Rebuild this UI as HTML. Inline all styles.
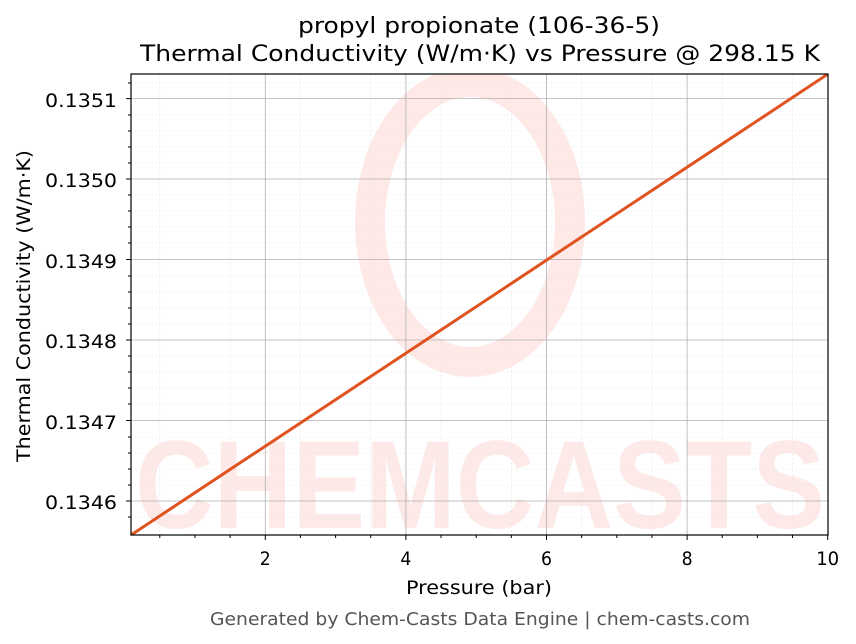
<!DOCTYPE html>
<html><head><meta charset="utf-8"><style>body{margin:0;background:#fff}svg{display:block}</style></head><body>
<svg width="856" height="644" viewBox="0 0 856 644" xmlns="http://www.w3.org/2000/svg" font-family="DejaVu Sans, Liberation Sans, sans-serif">
<rect width="856" height="644" fill="#fff"/>
<defs><clipPath id="c"><rect x="131" y="74" width="697" height="461"/></clipPath></defs>
<g clip-path="url(#c)">
<g opacity="0.4" fill="#fcc9c4">
<ellipse cx="470" cy="222" rx="100" ry="140" fill="none" stroke="#fcc9c4" stroke-width="30"/>
<text x="480" y="528" font-size="125" font-weight="bold" text-anchor="middle" textLength="690" lengthAdjust="spacingAndGlyphs" font-family="Liberation Sans, sans-serif">CHEMCASTS</text>
</g>
<g stroke="#e6e6e6" stroke-width="0.6" stroke-dasharray="2,2">
<path d="M159.8 74V535M230.1 74V535M300.4 74V535M370.7 74V535M441 74V535M511.3 74V535M581.6 74V535M651.9 74V535M722.2 74V535M792.5 74V535"/>
<path d="M131 517H828M131 485H828M131 469H828M131 453H828M131 437H828M131 404H828M131 388H828M131 372H828M131 356H828M131 324H828M131 308H828M131 292H828M131 276H828M131 243H828M131 227H828M131 211H828M131 195H828M131 163H828M131 147H828M131 131H828M131 115H828M131 83H828"/>
</g>
<g stroke="#b0b0b0" stroke-width="0.8">
<path d="M265.3 74V535M405.9 74V535M546.5 74V535M687.1 74V535"/>
<path d="M131 501H828M131 420.5H828M131 340H828M131 259.5H828M131 179H828M131 98.6H828"/>
</g>
<line x1="131" y1="535" x2="828" y2="74" stroke="#e05320" stroke-width="3"/>
</g>
<rect x="131" y="74" width="697" height="461" fill="none" stroke="#000" stroke-width="1.2"/>
<g stroke="#000" stroke-width="1">
<path d="M265.3 535v5M405.9 535v5M546.5 535v5M687.1 535v5M827.7 535v5"/>
<path d="M159.8 535v3M195 535v3M230.1 535v3M300.4 535v3M335.6 535v3M370.7 535v3M441 535v3M476.2 535v3M511.3 535v3M581.6 535v3M616.8 535v3M651.9 535v3M722.2 535v3M757.4 535v3M792.5 535v3"/>
<path d="M131 501h-5M131 420.5h-5M131 340h-5M131 259.5h-5M131 179h-5M131 98.6h-5"/>
<path d="M131 517h-3M131 485h-3M131 469h-3M131 453h-3M131 437h-3M131 404h-3M131 388h-3M131 372h-3M131 356h-3M131 324h-3M131 308h-3M131 292h-3M131 276h-3M131 243h-3M131 227h-3M131 211h-3M131 195h-3M131 163h-3M131 147h-3M131 131h-3M131 115h-3M131 83h-3"/>
</g>
<g font-size="19" fill="#000">
<g text-anchor="middle">
<text x="265.3" y="565" textLength="11" lengthAdjust="spacingAndGlyphs">2</text><text x="405.9" y="565" textLength="11" lengthAdjust="spacingAndGlyphs">4</text><text x="546.5" y="565" textLength="11" lengthAdjust="spacingAndGlyphs">6</text><text x="687.1" y="565" textLength="11" lengthAdjust="spacingAndGlyphs">8</text><text x="827.7" y="565" textLength="23" lengthAdjust="spacingAndGlyphs">10</text>
<text x="479" y="594" textLength="146" lengthAdjust="spacingAndGlyphs">Pressure (bar)</text>
<text x="479" y="33" font-size="22" textLength="362" lengthAdjust="spacingAndGlyphs">propyl propionate (106-36-5)</text>
<text x="480" y="61" font-size="22" textLength="680" lengthAdjust="spacingAndGlyphs">Thermal Conductivity (W/m·K) vs Pressure @ 298.15 K</text>
</g>
<g text-anchor="end">
<text x="117" y="107" textLength="72" lengthAdjust="spacingAndGlyphs">0.1351</text><text x="117" y="187" textLength="72" lengthAdjust="spacingAndGlyphs">0.1350</text><text x="117" y="268" textLength="72" lengthAdjust="spacingAndGlyphs">0.1349</text><text x="117" y="348" textLength="72" lengthAdjust="spacingAndGlyphs">0.1348</text><text x="117" y="429" textLength="72" lengthAdjust="spacingAndGlyphs">0.1347</text><text x="117" y="509" textLength="72" lengthAdjust="spacingAndGlyphs">0.1346</text>
</g>
<text transform="translate(30 306) rotate(-90)" text-anchor="middle" textLength="312" lengthAdjust="spacingAndGlyphs">Thermal Conductivity (W/m·K)</text>
<text x="480" y="625" text-anchor="middle" font-size="18" fill="#555" textLength="540" lengthAdjust="spacingAndGlyphs">Generated by Chem-Casts Data Engine | chem-casts.com</text>
</g>
</svg>
</body></html>
